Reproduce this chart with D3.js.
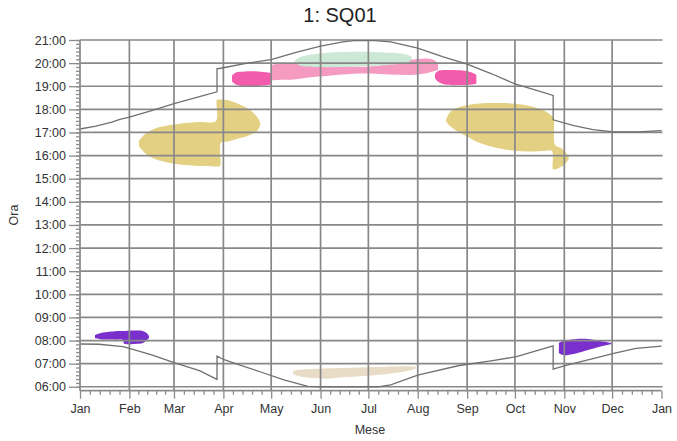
<!DOCTYPE html>
<html><head><meta charset="utf-8">
<script src="https://cdn.jsdelivr.net/npm/d3@7"></script>
<style>
html,body{margin:0;padding:0;background:#fff;}
svg{display:block;font-family:"Liberation Sans",Arial,sans-serif;}
</style></head>
<body>
<svg id="chart" width="677" height="441"></svg>
<script>
// ---------- DATA ----------
const chartTitle = "1: SQ01";
const xTitle = "Mese";
const yTitle = "Ora";
const monthLabels = ["Jan","Feb","Mar","Apr","May","Jun","Jul","Aug","Sep","Oct","Nov","Dec","Jan"];
const monthStartDays = [0,31,59,90,120,151,181,212,243,273,304,334,365];
const hourTicks = [6,7,8,9,10,11,12,13,14,15,16,17,18,19,20,21];

// sunset (top curve): day of year, hour
const sunsetDay  = [0,10,20,25,31,45,59,75,86,86,90,105,120,135,151,165,172,185,195,212,228,243,258,273,285,297,297,310,322,335,350,365];
const sunsetHour = [17.15,17.27,17.45,17.57,17.66,17.95,18.25,18.55,18.76,19.75,19.8,20.0,20.15,20.45,20.74,20.92,20.97,20.97,20.92,20.65,20.27,19.96,19.55,19.1,18.85,18.6,17.55,17.3,17.12,17.03,17.03,17.08];

// sunrise (bottom curve)
const sunriseDay  = [0,12,27,31,45,59,75,86,86,90,100,113,128,143,150,187,195,212,238,258,274,297,297,305,322,335,349,365];
const sunriseHour = [7.85,7.84,7.74,7.66,7.38,7.04,6.7,6.32,7.33,7.18,6.95,6.65,6.3,6.02,6.0,6.0,6.08,6.5,6.92,7.12,7.3,7.77,6.76,6.93,7.22,7.44,7.66,7.76];

// reflection periods: day, start hour (bottom), end hour (top)
const khakiSpringDay    = [37.0,40.8,47.1,56.5,65.9,75.3,85.3,86.0,87.9,88.5,92.2,98.5,106.7,111.7,113.3];
const khakiSpringTop    = [16.63,16.93,17.17,17.32,17.41,17.45,17.50,18.40,18.43,18.43,18.40,18.26,17.97,17.62,17.39];
const khakiSpringBottom = [16.41,16.11,15.85,15.68,15.59,15.55,15.53,15.53,15.55,16.56,16.60,16.72,16.89,17.11,17.39];

const khakiAutumnDay    = [229.7,232.2,236.6,243.5,251.0,260.4,271.7,282.4,291.8,296.2,296.8,297.5,298.2,301.3,304.5,306.7];
const khakiAutumnTop    = [17.54,17.88,18.06,18.19,18.25,18.27,18.25,18.14,17.93,17.71,17.67,17.54,16.46,16.35,16.18,15.94];
const khakiAutumnBottom = [17.50,17.28,17.06,16.80,16.54,16.35,16.22,16.18,16.20,16.20,15.42,15.40,15.40,15.50,15.63,15.85];

const pinkSpringDay    = [95.4,97.9,103.5,111.7,118.0,120.2];
const pinkSpringTop    = [19.46,19.59,19.64,19.64,19.59,19.57];
const pinkSpringBottom = [19.20,19.07,18.99,19.01,19.05,19.10];

const pinkSummerDay    = [120.2,123.6,133.7,141.2,150.6,169.4,182.0,194.5,207.1,216.5,221.5,224.7];
const pinkSummerTop    = [19.92,19.96,19.99,19.92,19.87,19.85,19.85,19.96,20.13,20.20,20.16,20.00];
const pinkSummerBottom = [19.25,19.27,19.29,19.36,19.42,19.53,19.55,19.51,19.49,19.55,19.64,19.70];

const greenDay    = [134.9,138.1,150.6,171.3,191.4,200.8,205.8,208.3];
const greenTop    = [20.11,20.26,20.42,20.49,20.46,20.42,20.35,20.26];
const greenBottom = [20.00,19.90,19.83,19.85,19.92,19.96,20.03,20.16];

const pinkLateDay    = [222.8,224.7,229.1,240.4,246.0,248.8];
const pinkLateTop    = [19.53,19.66,19.70,19.68,19.59,19.49];
const pinkLateBottom = [19.36,19.20,19.07,19.05,19.07,19.12];

const purpleWinterDay    = [9.4,12.6,22.0,27.0,27.6,34.5,39.5,42.0,43.3];
const purpleWinterTop    = [8.24,8.32,8.40,8.41,8.41,8.43,8.41,8.32,8.20];
const purpleWinterBottom = [8.11,8.06,8.04,8.02,7.87,7.85,7.89,8.02,8.11];

const purpleAutumnDay    = [300.6,303.1,310.6,320.0,329.5,333.9];
const purpleAutumnTop    = [7.89,7.98,8.06,8.06,7.95,7.89];
const purpleAutumnBottom = [7.46,7.37,7.43,7.61,7.78,7.85];

const beigeDay    = [133.7,138.1,153.8,166.3,185.1,204.0,210.9];
const beigeTop    = [6.68,6.74,6.79,6.81,6.85,6.89,6.87];
const beigeBottom = [6.55,6.44,6.35,6.42,6.50,6.66,6.79];

// ---------- DRAW ----------
const svg = d3.select("#chart");
const x = d3.scaleLinear().domain([0,365]).range([80,661.5]);
const y = d3.scaleLinear().domain([5.83,21]).range([390.7,40]);

const zip = (d,t,b) => d.map((v,i)=>({d:v,t:t[i],b:b[i]}));
const area = d3.area().x(p=>x(p.d)).y0(p=>y(p.b)).y1(p=>y(p.t)).curve(d3.curveCatmullRom.alpha(0.5));

const blobs = [
  [beigeDay,beigeTop,beigeBottom,"#e9dcc6"],
  [khakiSpringDay,khakiSpringTop,khakiSpringBottom,"#e3d083"],
  [khakiAutumnDay,khakiAutumnTop,khakiAutumnBottom,"#e3d083"],
  [pinkSummerDay,pinkSummerTop,pinkSummerBottom,"#f59bc1"],
  [greenDay,greenTop,greenBottom,"#cce8d7"],
  [pinkSpringDay,pinkSpringTop,pinkSpringBottom,"#f35cad"],
  [pinkLateDay,pinkLateTop,pinkLateBottom,"#f35cad"],
  [purpleWinterDay,purpleWinterTop,purpleWinterBottom,"#7a2fcc"],
  [purpleAutumnDay,purpleAutumnTop,purpleAutumnBottom,"#7a2fcc"]
];
svg.append("g").selectAll("path").data(blobs).join("path")
  .attr("d",b=>area(zip(b[0],b[1],b[2])))
  .attr("fill",b=>b[3]);

// gridlines
const grid = svg.append("g").attr("stroke","#888").attr("stroke-width",1.7);
grid.selectAll("line.h").data(hourTicks).join("line")
  .attr("x1",x(0)).attr("x2",x(365)+1).attr("y1",d=>y(d)).attr("y2",d=>y(d));
grid.selectAll("line.v").data(monthStartDays.slice(1,12)).join("line")
  .attr("x1",d=>x(d)).attr("x2",d=>x(d)).attr("y1",y(21)).attr("y2",y(5.83));

// sun curves
const line = d3.line().x(p=>x(p[0])).y(p=>y(p[1]));
svg.append("path").attr("d",line(sunsetDay.map((d,i)=>[d,sunsetHour[i]])))
  .attr("fill","none").attr("stroke","#707070").attr("stroke-width",1.3);
svg.append("path").attr("d",line(sunriseDay.map((d,i)=>[d,sunriseHour[i]])))
  .attr("fill","none").attr("stroke","#707070").attr("stroke-width",1.3);

// axes
const axisColor = "#8c8c8c";
const minorYv = [];
for(let h=6; h<=21.0001; h+=1/6) minorYv.push(h);
const minorX = [];
for(let m=0;m<12;m++){const a=monthStartDays[m],b=monthStartDays[m+1];for(let k=1;k<5;k++)minorX.push(a+(b-a)*k/5);}

const yAx = svg.append("g").attr("transform",`translate(${x(0)},0)`);
yAx.call(d3.axisLeft(y).tickValues(minorYv).tickSize(4).tickFormat(""));
yAx.call(g=>{g.append("g").call(d3.axisLeft(y).tickValues(hourTicks).tickSize(11)
   .tickFormat(h=>String(h).padStart(2,"0")+":00").tickPadding(3));});
yAx.selectAll("path").remove();
yAx.selectAll("line").attr("stroke",axisColor).attr("stroke-width",1.3);
yAx.append("line").attr("x1",0).attr("x2",0).attr("y1",y(21)).attr("y2",y(5.83)).attr("stroke",axisColor).attr("stroke-width",1.8);
yAx.selectAll("text").attr("font-size",12.5).attr("fill","#333").attr("font-family","Liberation Sans, Arial, sans-serif");

const xAx = svg.append("g").attr("transform",`translate(0,${y(5.83)})`);
xAx.call(d3.axisBottom(x).tickValues(minorX).tickSize(4).tickFormat(""));
xAx.call(g=>{g.append("g").call(d3.axisBottom(x).tickValues(monthStartDays).tickSize(8)
   .tickFormat((d,i)=>monthLabels[i]).tickPadding(5));});
xAx.selectAll("path").remove();
xAx.selectAll("line").attr("stroke",axisColor).attr("stroke-width",1.3);
xAx.append("line").attr("x1",x(0)).attr("x2",x(365)).attr("y1",0).attr("y2",0).attr("stroke",axisColor).attr("stroke-width",1.8);
xAx.selectAll("text").attr("font-size",12.5).attr("fill","#333").attr("font-family","Liberation Sans, Arial, sans-serif");

// titles
svg.append("text").attr("x",340).attr("y",22).attr("text-anchor","middle")
  .attr("font-size",20).attr("fill","#222").text(chartTitle);
svg.append("text").attr("x",370).attr("y",434).attr("text-anchor","middle")
  .attr("font-size",12.5).attr("fill","#333").text(xTitle);
svg.append("text").attr("transform","translate(18,215) rotate(-90)").attr("text-anchor","middle")
  .attr("font-size",12.5).attr("fill","#333").text(yTitle);
</script>
</body></html>
